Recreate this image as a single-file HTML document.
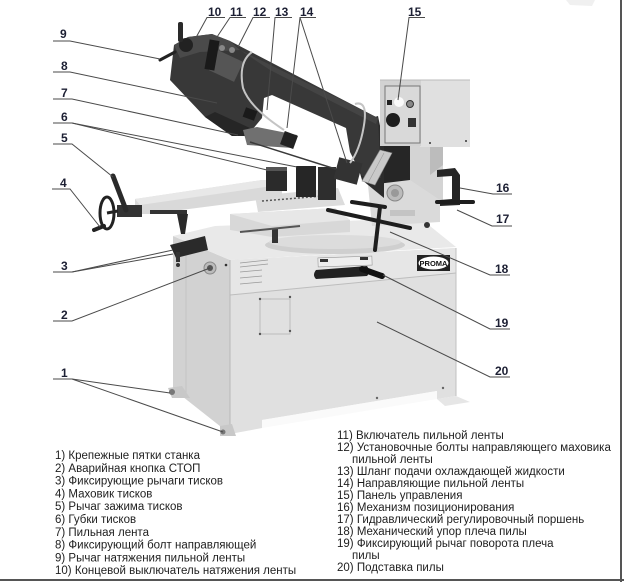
<!DOCTYPE html>
<html><head><meta charset="utf-8"><style>
html,body{margin:0;padding:0;background:#fff;}
svg{display:block;}
.n{font-family:"Liberation Sans",Arial,sans-serif;font-weight:bold;font-size:12px;fill:#1c1f33;}
.t{font-family:"Liberation Sans","Noto Sans CJK SC",sans-serif;font-size:11.5px;fill:#1e1e1e;}
.l{stroke:#4a4a4a;stroke-width:1;fill:none;}
</style></head><body>
<svg width="624" height="582" viewBox="0 0 624 582" xmlns="http://www.w3.org/2000/svg">
<rect width="624" height="582" fill="#fff"/>
<path d="M566 0 L595 0 L592 6 L570 5 Z" fill="#f0f0f0"/>

<!-- shadow under cabinet -->
<path d="M437 399 L456 396 L470 402 L445 406 Z" fill="#e6e6e6"/>
<!-- Cabinet left side -->
<polygon points="173,236 230,260 230,434 173,389" fill="#d2d2d2"/>
<line x1="186" y1="250" x2="186" y2="395" stroke="#c4c4c4"/>
<!-- Cabinet front -->
<polygon points="230,260 456,248 456,396 437,399 437,391 262,420 262,428 230,434" fill="#e0e0e0"/>
<polygon points="230,260 456,248 456,273 230,295" fill="#e6e6e6"/>
<line x1="230" y1="295" x2="456" y2="273" stroke="#bdbdbd"/>
<line x1="230" y1="260" x2="230" y2="434" stroke="#b8b8b8"/>
<line x1="456" y1="248" x2="456" y2="396" stroke="#c0c0c0"/>
<polygon points="262,420 437,391 437,399 262,428" fill="#fafafa"/>
<!-- feet -->
<path d="M168 388 L182 386 L190 398 L172 398 Z" fill="#c8c8c8"/>
<circle cx="172" cy="392" r="3" fill="#777"/>
<path d="M220 426 L232 424 L236 436 L220 436 Z" fill="#c8c8c8"/>
<circle cx="223" cy="432" r="2.5" fill="#777"/>
<!-- panel rectangle -->
<rect x="260" y="299" width="30" height="35" fill="none" stroke="#bbb"/>
<circle cx="260" cy="299" r="1.2" fill="#555"/><circle cx="290" cy="297" r="1.2" fill="#555"/>
<circle cx="260" cy="334" r="1.2" fill="#555"/><circle cx="290" cy="331" r="1.2" fill="#555"/>
<circle cx="377" cy="398" r="1.2" fill="#666"/><circle cx="443" cy="388" r="1.2" fill="#666"/>
<g stroke="#999" stroke-width="0.8">
<line x1="240" y1="263" x2="268" y2="260"/><line x1="240" y1="267" x2="268" y2="264"/>
<line x1="240" y1="272" x2="262" y2="270"/><line x1="240" y1="278" x2="262" y2="276"/>
<line x1="240" y1="284" x2="262" y2="282"/>
</g>
<circle cx="210" cy="268" r="6" fill="#bbb" stroke="#888"/>
<circle cx="210" cy="268" r="3" fill="#555"/>
<circle cx="226" cy="265" r="1.3" fill="#333"/>
<rect x="318" y="257" width="54" height="9" fill="#eee" stroke="#999" stroke-width="0.6" transform="rotate(-2 345 261)"/>
<rect x="320" y="259" width="8" height="3" fill="#333"/><rect x="360" y="257" width="8" height="3" fill="#333"/>
<path d="M316 270 L367 266 Q371 272 367 276 L316 279 Q312 275 316 270 Z" fill="#222"/>
<line x1="362" y1="269" x2="382" y2="276" stroke="#111" stroke-width="6" stroke-linecap="round"/>
<rect x="417" y="255" width="33" height="16" fill="#222"/>
<ellipse cx="433.5" cy="263" rx="15" ry="6.5" fill="#fff"/>
<text x="433.5" y="266" text-anchor="middle" font-family="Liberation Sans,sans-serif" font-weight="bold" font-size="7.5" fill="#111">PROMA</text>

<!-- cabinet top surface -->
<polygon points="173,236 215,226 420,218 456,247 230,260" fill="#e9e9e9"/>
<path d="M170 245 L205 236 L208 250 L176 258 Z" fill="#2a2a2a"/>
<rect x="176" y="252" width="4" height="10" fill="#333"/>
<circle cx="178" cy="265" r="2" fill="#333"/>
<!-- turntable -->
<ellipse cx="335" cy="245" rx="70" ry="9" fill="#cfcfcf"/>
<ellipse cx="335" cy="242" rx="66" ry="7" fill="#dcdcdc"/>
<!-- table -->
<polygon points="230,214 335,208 350,220 350,232 272,237 230,230" fill="#d8d8d8"/>
<polygon points="230,214 335,208 350,220 272,226" fill="#e7e7e7"/>
<rect x="272" y="228" width="6" height="15" fill="#333"/>
<line x1="240" y1="232" x2="300" y2="226" stroke="#555" stroke-width="2"/>
<!-- vise bed -->
<polygon points="255,196 338,188 345,205 258,212" fill="#dcdcdc"/>
<line x1="262" y1="201" x2="335" y2="195" stroke="#555" stroke-width="1.5" stroke-dasharray="2,2"/>
<!-- vise beam -->
<polygon points="135,199 262,180 282,180 282,197 150,214 135,214" fill="#d9d9d9"/>
<polygon points="135,199 262,180 282,180 272,186 140,205" fill="#e8e8e8"/>
<rect x="150" y="210" width="37" height="4" fill="#333"/>
<path d="M177 214 L188 214 L185 234 L181 234 Z" fill="#2a2a2a"/>
<!-- jaws -->
<rect x="266" y="167" width="21" height="24" fill="#2b2b2b"/>
<rect x="266" y="167" width="21" height="4" fill="#555"/>
<rect x="296" y="166" width="20" height="31" fill="#262626"/>
<rect x="318" y="167" width="18" height="33" fill="#2e2e2e"/>
<!-- handwheel -->
<rect x="117" y="205" width="25" height="12" fill="#333"/>
<ellipse cx="107" cy="213" rx="7" ry="16" fill="none" stroke="#222" stroke-width="3"/>
<line x1="107" y1="213" x2="118" y2="211" stroke="#222" stroke-width="3"/>
<line x1="104" y1="226" x2="94" y2="230" stroke="#222" stroke-width="4" stroke-linecap="round"/>
<line x1="113" y1="176" x2="126" y2="210" stroke="#2a2a2a" stroke-width="5" stroke-linecap="round"/>

<!-- column -->
<rect x="383" y="145" width="28" height="58" fill="#262626"/>
<polygon points="410,145 443,145 443,205 410,205" fill="#d4d4d4"/>
<polygon points="430,145 443,145 443,165 430,175" fill="#bcbcbc"/>
<path d="M368 185 L410 180 L440 200 L440 222 L372 226 Z" fill="#dadada"/>
<circle cx="395" cy="193" r="8" fill="#bbb" stroke="#888"/>
<circle cx="395" cy="193" r="4" fill="#999"/>
<rect x="390" y="210" width="25" height="6" fill="#c4c4c4"/>
<path d="M437 170 L455 168 L460 175 L460 205 L440 206 L440 200 L452 199 L452 176 L437 177 Z" fill="#262626"/>
<line x1="437" y1="202" x2="473" y2="202" stroke="#1e1e1e" stroke-width="4" stroke-linecap="round"/>
<line x1="328" y1="210" x2="410" y2="228" stroke="#1e1e1e" stroke-width="4" stroke-linecap="round"/>
<line x1="352" y1="202" x2="385" y2="207" stroke="#1e1e1e" stroke-width="4" stroke-linecap="round"/>
<line x1="380" y1="207" x2="375" y2="250" stroke="#1e1e1e" stroke-width="4" stroke-linecap="round"/>
<circle cx="427" cy="225" r="3" fill="#333"/>

<!-- dark area between arm and column -->
<polygon points="346,126 378,116 384,145 384,198 362,180" fill="#2c2c2c"/>
<!-- Saw head & arm -->
<polygon points="170,80 174,45 188,37 212,34 230,41 378,118 381,178 362,176 350,152 346,128 272,95 264,98 262,118 247,136 232,136 205,117" fill="#383838"/>
<polygon points="174,45 188,37 212,34 230,41 240,50 200,52 180,58" fill="#4a4a4a"/>
<polygon points="240,50 378,118 376,124 270,70" fill="#444"/>
<polygon points="205,117 232,136 247,136 250,128 215,112" fill="#262626"/>
<rect x="212" y="55" width="28" height="22" fill="#555" transform="rotate(25 226 66)"/>
<rect x="207" y="40" width="10" height="30" fill="#1a1a1a" transform="rotate(10 212 55)"/>
<circle cx="222" cy="48" r="3" fill="#888"/><circle cx="232" cy="50" r="3" fill="#888"/>
<circle cx="186" cy="45" r="7" fill="#222"/>
<rect x="178" y="22" width="5" height="20" rx="2" fill="#2a2a2a"/>
<line x1="175" y1="52" x2="160" y2="60" stroke="#222" stroke-width="3" stroke-linecap="round"/>
<rect x="244" y="109" width="12" height="10" fill="#1a1a1a" transform="rotate(20 250 114)"/>
<polygon points="243,130 257,127 297,135 293,148 247,145" fill="#707070"/>
<rect x="282" y="133" width="14" height="14" fill="#222" transform="rotate(20 289 140)"/>
<line x1="250" y1="142" x2="345" y2="172" stroke="#3a3a3a" stroke-width="1.5"/>
<rect x="336" y="160" width="24" height="22" fill="#333" transform="rotate(15 348 171)"/>
<polygon points="380,150 392,153 375,185 362,181" fill="#c9c9c9" stroke="#888" stroke-width="0.6"/>
<line x1="384" y1="153" x2="368" y2="183" stroke="#999" stroke-width="0.6"/>
<path d="M252 52 Q238 62 243 88 Q250 108 284 130" fill="none" stroke="#c4c4c4" stroke-width="2"/>
<path d="M355 104 Q368 100 364 125 Q360 150 350 163" fill="none" stroke="#c4c4c4" stroke-width="2"/>

<!-- control box -->
<rect x="420" y="80" width="50" height="67" fill="#e0e0e0"/>
<rect x="380" y="80" width="41" height="66" fill="#d2d2d2"/>
<rect x="385" y="86" width="35" height="57" fill="#d9d9d9" stroke="#777" stroke-width="1"/>
<rect x="387" y="100" width="5" height="5" fill="#222"/>
<circle cx="399" cy="102" r="5" fill="#fafafa"/>
<circle cx="410" cy="104" r="3.5" fill="#888" stroke="#333"/>
<circle cx="393" cy="120" r="7" fill="#1e1e1e"/>
<rect x="408" y="118" width="8" height="9" fill="#333"/>
<line x1="380" y1="80" x2="470" y2="80" stroke="#bbb"/>
<circle cx="466" cy="141" r="1" fill="#333"/><circle cx="430" cy="143" r="1" fill="#333"/>

<!-- leader lines -->
<g class="l">
<polyline points="53,41 70,41 160,59"/>
<polyline points="53,72 70,72 217,103"/>
<polyline points="53,99 72,99 238,135"/>
<polyline points="53,123 72,123 267,170"/>
<line x1="72" y1="123" x2="297" y2="167"/>
<polyline points="53,144 72,144 113,177"/>
<polyline points="52,189 70,189 100,227"/>
<polyline points="53,272 72,272 173,250"/>
<line x1="72" y1="272" x2="173" y2="254"/>
<polyline points="53,321 72,321 210,268"/>
<polyline points="53,379 72,379 170,393"/>
<line x1="72" y1="379" x2="223" y2="432"/>
<polyline points="225,17.5 207,17.5 193,43"/>
<polyline points="246,17.5 230,17.5 217,37"/>
<polyline points="270,17.5 253,17.5 238,47"/>
<polyline points="292,17.5 275,17.5 267,110"/>
<polyline points="316,17.5 300,17.5 287,128"/>
<line x1="300" y1="17.5" x2="347" y2="163"/>
<polyline points="425,17.5 409,17.5 398,100"/>
<polyline points="512,194 493,194 460,188"/>
<polyline points="512,226 492,226 457,210"/>
<polyline points="510,275 490,275 390,232"/>
<polyline points="510,329 490,329 383,275"/>
<polyline points="510,377 490,377 377,322"/>
</g>
<text class="n" x="60" y="38">9</text>
<text class="n" x="61" y="70">8</text>
<text class="n" x="61" y="97">7</text>
<text class="n" x="61" y="121">6</text>
<text class="n" x="61" y="142">5</text>
<text class="n" x="60" y="187">4</text>
<text class="n" x="61" y="270">3</text>
<text class="n" x="61" y="319">2</text>
<text class="n" x="61" y="377">1</text>
<text class="n" x="208" y="16">10</text>
<text class="n" x="230" y="16">11</text>
<text class="n" x="253" y="16">12</text>
<text class="n" x="275" y="16">13</text>
<text class="n" x="300" y="16">14</text>
<text class="n" x="408" y="16">15</text>
<text class="n" x="496" y="192">16</text>
<text class="n" x="496" y="223">17</text>
<text class="n" x="495" y="273">18</text>
<text class="n" x="495" y="327">19</text>
<text class="n" x="495" y="375">20</text>

<text class="t" x="55" y="459">1) Крепежные пятки станка</text>
<text class="t" x="55" y="471.8">2) Аварийная кнопка СТОП</text>
<text class="t" x="55" y="484.6">3) Фиксирующие рычаги тисков</text>
<text class="t" x="55" y="497.4">4) Маховик тисков</text>
<text class="t" x="55" y="510.2">5) Рычаг зажима тисков</text>
<text class="t" x="55" y="523">6) Губки тисков</text>
<text class="t" x="55" y="535.8">7) Пильная лента</text>
<text class="t" x="55" y="548.6">8) Фиксирующий болт направляющей</text>
<text class="t" x="55" y="561.4">9) Рычаг натяжения пильной ленты</text>
<text class="t" x="55" y="574.2">10) Концевой выключатель натяжения ленты</text>
<text class="t" x="337" y="439">11) Включатель пильной ленты</text>
<text class="t" x="337" y="451">12) Установочные болты направляющего маховика</text>
<text class="t" x="352" y="463">пильной ленты</text>
<text class="t" x="337" y="475">13) Шланг подачи охлаждающей жидкости</text>
<text class="t" x="337" y="487">14) Направляющие пильной ленты</text>
<text class="t" x="337" y="499">15) Панель управления</text>
<text class="t" x="337" y="511">16) Механизм позиционирования</text>
<text class="t" x="337" y="523">17) Гидравлический регулировочный поршень</text>
<text class="t" x="337" y="535">18) Механический упор плеча пилы</text>
<text class="t" x="337" y="547">19) Фиксирующий рычаг поворота плеча</text>
<text class="t" x="352" y="559">пилы</text>
<text class="t" x="337" y="571">20) Подставка пилы</text>

<line x1="0" y1="580" x2="624" y2="580" stroke="#555" stroke-width="2"/>
<line x1="621" y1="0" x2="621" y2="582" stroke="#555" stroke-width="2"/>
</svg>
</body></html>
